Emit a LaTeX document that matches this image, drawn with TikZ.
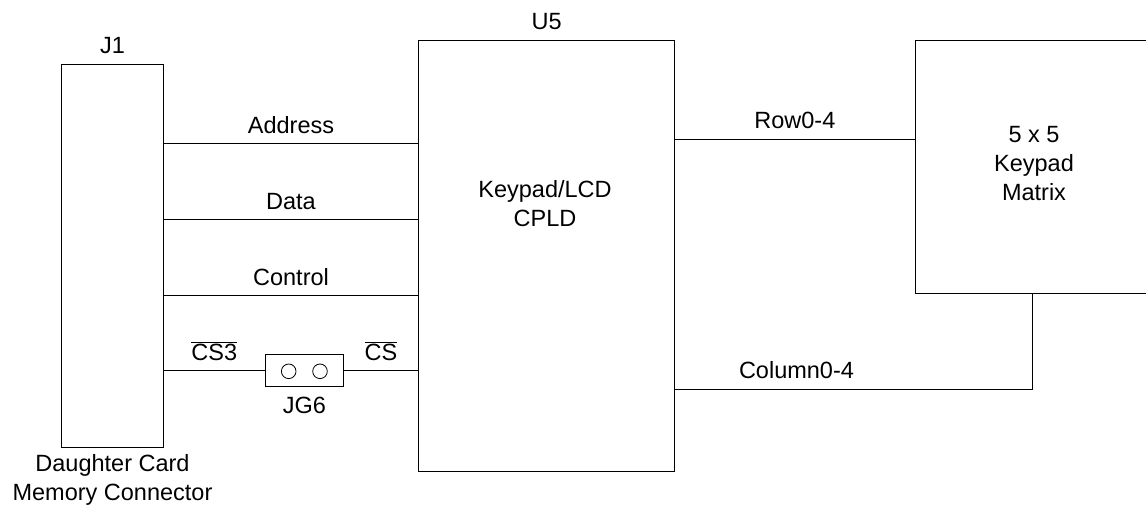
\documentclass[tikz,border=0pt]{standalone}
\usepackage{fontspec}
\setmainfont{Liberation Sans}
\usepackage{tikz}
\usepackage{xcolor}

\tikzset{
  chip/.style={draw, line width=0.9pt, inner sep=0pt},
  sig/.style={anchor=base, yshift=10.5pt, inner sep=0pt},
  refdes/.style={anchor=base, yshift=10.5pt, inner sep=0pt},
  hole/.style={circle, draw, line width=0.8pt, minimum size=14.6pt, inner sep=0pt}
}

\begin{document}
\begin{tikzpicture}[x=1pt, y=-1pt, line width=0.9pt,
    font=\fontsize{23.5}{29}\selectfont]
\useasboundingbox (0,0) rectangle (1146,506);
\node [chip, minimum width=101.6pt, minimum height=383pt]
       (J1) at (112.5,255.8) {};
\node [chip, minimum width=256pt, minimum height=431pt]
       (U5) at (546.7,256.2) {};
\node [chip, minimum width=238pt, minimum height=252.6pt]
       (kp) at (1034,167) {};
\node [chip, minimum width=78pt, minimum height=32pt]
       (JG6) at (304.3,370.7) {};
\node [hole] (p1) at (288.7,371.3) {};
\node [hole] (p2) at (320,371.3) {};

\node [refdes] (J1lbl) at (J1.north) {J1};
\node [refdes] (U5lbl) at (U5.north) {U5};
\node [anchor=north, inner sep=0pt, yshift=-9pt] (JG6lbl) at (JG6.south) {JG6};
\node [anchor=north, inner sep=0pt, yshift=-6pt, align=center, text depth=0pt]
       (J1name) at (J1.south) {Daughter Card\\Memory Connector};
\node [align=center] (cpld) at (545,204) {Keypad/LCD\\CPLD};
\node [align=center] (kptxt) at (1034,164) {5 x 5\\Keypad\\Matrix};

\draw (J1.east |- 0,143.7) -- node[sig] {Address} (U5.west |- 0,143.7);
\draw (J1.east |- 0,219.7) -- node[sig] {Data} (U5.west |- 0,219.7);
\draw (J1.east |- 0,295.7) -- node[sig] {Control} (U5.west |- 0,295.7);
\draw (J1.east |- JG6.west) -- node[sig] {$\overline{\mbox{CS3}}$} (JG6.west);
\draw (JG6.east) -- node[sig] {$\overline{\mbox{CS}}$} (U5.west |- JG6.east);
\draw (U5.east |- 0,139) -- node[sig] {Row0-4} (kp.west |- 0,139);
\draw (U5.east |- 0,389) -- node[sig, pos=0.34] {Column0-4}
      ([xshift=-2pt]kp.south |- 0,389) -- ([xshift=-2pt]kp.south);
\end{tikzpicture}
\end{document}
